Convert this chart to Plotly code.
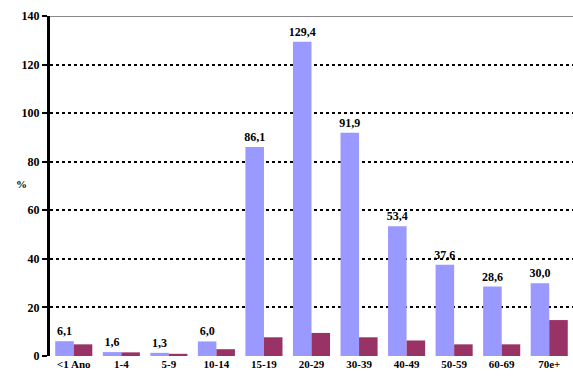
import plotly.graph_objects as go

categories = ["<1 Ano", "1-4", "5-9", "10-14", "15-19", "20-29", "30-39", "40-49", "50-59", "60-69", "70e+"]
series_a = [6.1, 1.6, 1.3, 6.0, 86.1, 129.4, 91.9, 53.4, 37.6, 28.6, 30.0]
series_b = [4.8, 1.5, 0.9, 2.8, 7.7, 9.5, 7.7, 6.4, 4.8, 4.8, 14.8]
y_ticks = [0, 20, 40, 60, 80, 100, 120, 140]

labels_a = [f"{v:.1f}".replace(".", ",") for v in series_a]

font_fam = "Liberation Serif"

fig = go.Figure()
fig.add_trace(go.Bar(
    x=categories, y=series_a, marker=dict(color="#9999FF", line=dict(width=0)),
    text=labels_a, textposition="outside", cliponaxis=False, constraintext="none",
    textfont=dict(family=font_fam, size=12, color="black", weight="bold"),
    hoverinfo="skip", showlegend=False,
))
fig.add_trace(go.Bar(
    x=categories, y=series_b, marker=dict(color="#993366", line=dict(width=0)),
    hoverinfo="skip", showlegend=False,
))

fig.update_layout(
    width=573, height=381,
    margin=dict(l=50, r=0, t=16, b=25),
    paper_bgcolor="white", plot_bgcolor="white",
    barmode="group", bargap=0.22, bargroupgap=0,
    font=dict(family=font_fam, size=11, color="black"),
    uniformtext=dict(mode=False),
    xaxis=dict(
        showgrid=False, showline=False, zeroline=False, ticks="",
        tickfont=dict(family=font_fam, size=11, color="black", weight="bold"),
    ),
    yaxis=dict(
        range=[0, 140], tickvals=y_ticks,
        showgrid=True, gridcolor="black", gridwidth=2, griddash="3px,3px",
        zeroline=True, zerolinecolor="white", zerolinewidth=1,
        showline=True, linecolor="black", linewidth=3,
        ticks="outside", ticklen=5, tickwidth=2, tickcolor="black",
        tickfont=dict(family=font_fam, size=12, color="black", weight="bold"),
    ),
    shapes=[dict(type="line", xref="paper", yref="y", x0=0, x1=1, y0=140, y1=140,
                 line=dict(color="#888888", width=2))],
    annotations=[dict(text="%", xref="paper", yref="y", x=-0.069, y=71, showarrow=False,
                      font=dict(family=font_fam, size=11, color="black", weight="bold"))],
)

fig.write_html("out.html")
